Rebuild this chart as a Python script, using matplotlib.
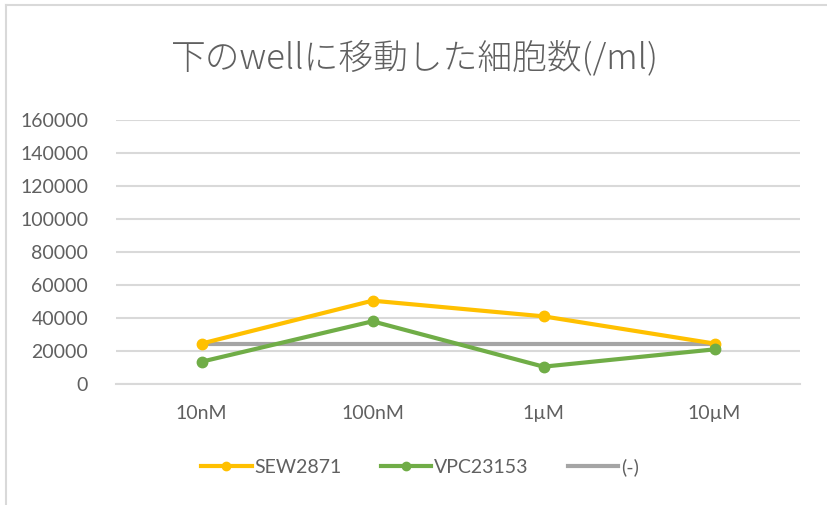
import matplotlib
matplotlib.use("Agg")
import matplotlib.pyplot as plt
from matplotlib.lines import Line2D

plt.rcParams['font.family'] = ['Lato', 'Noto Sans CJK JP', 'DejaVu Sans']

# Data
concentrations = ["10nM", "100nM", "1µM", "10µM"]
sew2871 = [24500, 50500, 41000, 24500]
vpc23153 = [13500, 38000, 10500, 21000]
control = [24000, 24000, 24000, 24000]
y_ticks = [0, 20000, 40000, 60000, 80000, 100000, 120000, 140000, 160000]
title = "下のwellに移動した細胞数(/ml)"

W, H = 827, 505
fig = plt.figure(figsize=(W / 100, H / 100), dpi=100)
fig.patch.set_facecolor("white")

# Plot area in pixels: left 116, right 800, top 120, bottom 384
ax = fig.add_axes([116 / W, 1 - 384 / H, (800 - 116) / W, (384 - 120) / H])

text_color = "#606060"
grid_color = "#D9D9D9"

x = list(range(len(concentrations)))
ax.plot(x, sew2871, color="#FFC000", lw=3, marker="o", ms=7.5, solid_capstyle="round", zorder=4, label="SEW2871")
ax.plot(x, vpc23153, color="#70AD47", lw=3, marker="o", ms=7.5, solid_capstyle="round", zorder=4, label="VPC23153")
ax.plot(x, control, color="#A5A5A5", lw=3, zorder=3, label="(-)")

ax.set_xlim(-0.5, len(concentrations) - 0.5)
ax.set_ylim(0, 160000)
ax.set_yticks(y_ticks)
ax.set_yticklabels([str(v) for v in y_ticks])
ax.set_xticks(x)
ax.set_xticklabels(concentrations)

ax.grid(axis="y", color=grid_color, lw=1.5)
ax.set_axisbelow(True)
for side in ["top", "right", "left"]:
    ax.spines[side].set_visible(False)
ax.spines["bottom"].set_color(grid_color)
ax.spines["bottom"].set_linewidth(1.5)
ax.tick_params(axis="both", length=0, colors=text_color, labelsize=14)
ax.tick_params(axis="y", pad=20)
ax.tick_params(axis="x", pad=15)

fig.text(415 / W, 1 - 58 / H, title, ha="center", va="center", fontsize=25,
         color=text_color, fontweight="light",
         family=['Noto Sans CJK JP', 'DejaVu Sans'])

handles = [
    Line2D([0], [0], color="#FFC000", lw=3, marker="o", ms=6),
    Line2D([0], [0], color="#70AD47", lw=3, marker="o", ms=6),
    Line2D([0], [0], color="#A5A5A5", lw=3),
]
fig.legend(handles, ["SEW2871", "VPC23153", "(-)"], loc="center",
           bbox_to_anchor=(420 / W, 1 - 467 / H), ncol=3, frameon=False,
           fontsize=14, labelcolor=text_color, handlelength=2.6,
           handletextpad=0.15, columnspacing=2.0)

# Chart area border (top and left edges)
fig.add_artist(Line2D([6 / W, 1], [1 - 5 / H, 1 - 5 / H], transform=fig.transFigure, color="#D9D9D9", lw=1.5))
fig.add_artist(Line2D([6 / W, 6 / W], [0, 1 - 5 / H], transform=fig.transFigure, color="#D9D9D9", lw=1.5))

fig.savefig("out.png", dpi=100, facecolor="white")
